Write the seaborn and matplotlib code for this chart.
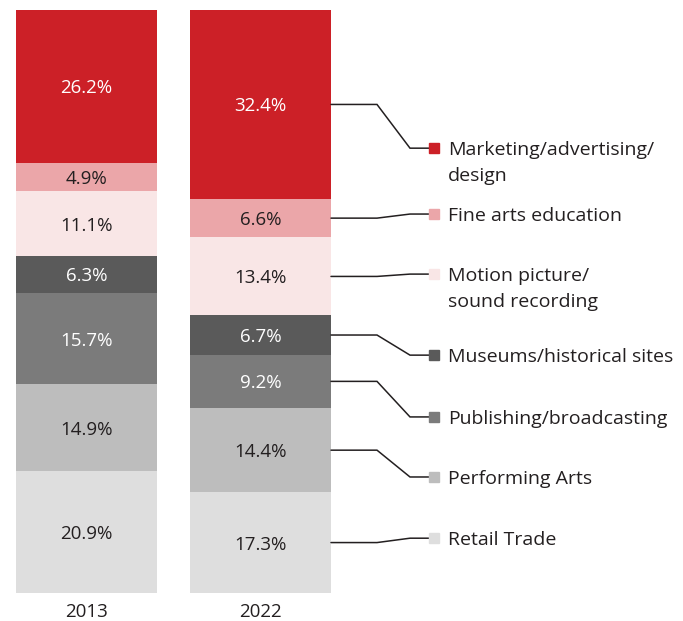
import numpy as np
import pandas as pd
import seaborn as sns
import matplotlib.pyplot as plt

# data, listed from top of the stack to the bottom
years = ["2013", "2022"]
categories = ["Marketing/advertising/\ndesign", "Fine arts education",
              "Motion picture/\nsound recording", "Museums/historical sites",
              "Publishing/broadcasting", "Performing Arts", "Retail Trade"]
share_2013 = [26.2, 4.9, 11.1, 6.3, 15.7, 14.9, 20.9]
share_2022 = [32.4, 6.6, 13.4, 6.7, 9.2, 14.4, 17.3]

colors = ["#cc2027", "#eba6a9", "#f9e6e6", "#5a5a5a", "#7b7b7b", "#bdbdbd", "#dedede"]
text_colors = ["white", "#231f20", "#231f20", "white", "white", "#231f20", "#231f20"]
# where each legend entry sits (percent scale, 0 = bottom of bars)
legend_y = [76.3, 65.0, 54.7, 40.8, 30.2, 19.9, 9.4]

sns.set_style("white")
plt.rcParams["font.family"] = ["Open Sans", "DejaVu Sans"]

fig = plt.figure(figsize=(6.83, 6.21), dpi=100)
W, H = 683, 621
px_unit = 174.0
ax = fig.add_axes([16 / W, 28 / H, (W - 16) / W, 583 / H])

df = pd.DataFrame({"year": years, **{c: [a, b] for c, a, b in zip(categories, share_2013, share_2022)}})

# cumulative totals from the bottom, drawn largest first so each overlays the previous
tops = df[categories[::-1]].cumsum(axis=1)[categories]
bar_w = 141 / px_unit
for cat, col in zip(categories, colors):
    sns.barplot(x=df["year"], y=tops[cat], color=col, width=bar_w,
                saturation=1, ax=ax, linewidth=0)

# value labels in the middle of each segment
for xi, shares in enumerate([share_2013, share_2022]):
    bottom = 100.0
    for v, tc in zip(shares, text_colors):
        mid = bottom - v / 2
        ax.text(xi, mid, f"{v:.1f}%", ha="center", va="center_baseline",
                color=tc, fontsize=13.5)
        bottom -= v

# connectors from the 2022 bar to the legend
x0 = 1 + bar_w / 2
x_elbow = x0 + 46 / px_unit
x_diag = x_elbow + 33 / px_unit
x_mark = x_diag + 24 / px_unit
bottom = 100.0
for cat, v, col, ly in zip(categories, share_2022, colors, legend_y):
    mid = bottom - v / 2
    bottom -= v
    ax.plot([x0, x_elbow, x_diag, x_mark], [mid, mid, ly, ly], color="#231f20",
            lw=1.1, clip_on=False, solid_joinstyle="miter")
    ax.plot([x_mark], [ly], marker="s", ms=7.5, color=col, mec=col, clip_on=False)
    for i, line in enumerate(cat.split("\n")):
        ax.annotate(line, (x_mark, ly), xytext=(10, -i * 18.5), textcoords="offset points",
                    ha="left", va="center_baseline", fontsize=14, color="#231f20",
                    annotation_clip=False)

ax.set_xlim(-bar_w / 2, -bar_w / 2 + (W - 16) / px_unit)
ax.set_ylim(0, 100)
ax.set_xlabel("")
ax.set_ylabel("")
ax.set_yticks([])
ax.tick_params(axis="x", length=0, pad=7, labelsize=13.5, labelcolor="#231f20")
sns.despine(ax=ax, left=True, bottom=True)

fig.savefig("out.png", dpi=100)
